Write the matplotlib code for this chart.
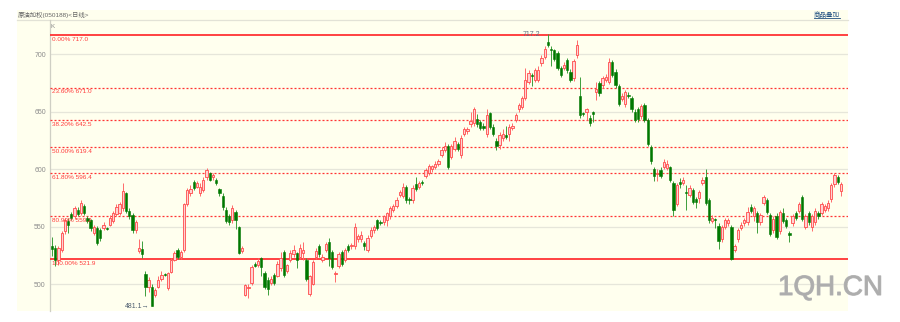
import matplotlib
matplotlib.use("Agg")
import matplotlib.pyplot as plt
from matplotlib.patches import Rectangle
from matplotlib.lines import Line2D
import matplotlib.patheffects as pe

plt.rcParams['font.family'] = ['Liberation Sans', 'Noto Sans CJK SC', 'DejaVu Sans']

# ---------------- data ----------------
opens = [533, 532, 521, 530, 546, 555, 561, 559, 565, 562,
         568, 558, 556, 545, 549, 547, 549, 549, 552, 555,
         561, 562, 566, 579, 564, 560, 547, 529, 531, 509,
         498, 498, 491, 498, 505, 509, 497, 511, 521, 530,
         524, 530, 570, 579, 589, 585, 579, 582, 593, 597,
         593, 591, 583, 577, 565, 559, 556, 563, 550, 529,
         491, 497, 501, 518, 517, 523, 510, 504, 501, 508,
         507, 514, 528, 512, 521, 526, 527, 524, 527, 521,
         492, 500, 524, 533, 521, 530, 537, 528, 509, 516,
         528, 521, 533, 533, 533, 539, 539, 536, 530, 542,
         547, 556, 554, 554, 556, 559, 565, 568, 578, 577,
         585, 574, 573, 587, 585, 589, 594, 597, 600, 602,
         605, 612, 617, 620, 611, 618, 622, 612, 631, 633,
         639, 640, 644, 641, 638, 631, 649, 637, 625, 621,
         627, 630, 631, 636, 643, 652, 654, 662, 676, 682,
         678, 678, 692, 698, 711, 705, 704, 701, 688, 688,
         695, 685, 679, 699, 664, 649, 650, 645, 650, 667,
         675, 673, 678, 676, 693, 685, 672, 661, 657, 665,
         662, 650, 652, 646, 656, 643, 619, 600, 596, 599,
         602, 601, 602, 588, 570, 589, 588, 580, 578, 582,
         574, 575, 588, 593, 573, 555, 557, 551, 539, 550,
         553, 550, 530, 539, 549, 553, 554, 567, 559, 562,
         554, 571, 573, 560, 547, 559, 546, 562, 556, 545,
         553, 562, 564, 576, 550, 562, 550, 554, 562, 562,
         565, 566, 574, 587, 593, 581]

closes = [531, 521, 532, 545, 556, 552, 558, 566, 561, 571,
          562, 555, 549, 550, 536, 540, 552, 548, 558, 562,
          567, 570, 581, 564, 559, 547, 554, 532, 526, 498,
          504, 481.1, 495, 504, 508, 508, 510, 521, 527, 524,
          528, 570, 582, 583, 584, 588, 585, 591, 599, 591,
          595, 588, 579, 567, 555, 554, 566, 556, 527, 532,
          499, 498, 515, 516, 520, 515, 498, 496, 505, 501,
          518, 523, 508, 517, 527, 530, 521, 532, 530, 505,
          507, 519, 529, 526, 524, 535, 523, 515, 510, 526,
          518, 530, 530, 534, 550, 542, 543, 533, 540, 547,
          550, 549, 553, 559, 562, 566, 568, 573, 580, 585,
          573, 573, 584, 583, 588, 588, 599, 603, 603, 605,
          607, 617, 620, 602, 620, 625, 618, 627, 635, 635,
          642, 652, 639, 636, 636, 647, 637, 631, 620, 630,
          631, 628, 637, 638, 647, 656, 662, 678, 684, 681,
          686, 686, 697, 705, 708, 704, 696, 688, 682, 691,
          686, 678, 694, 708, 647, 648, 652, 640, 648, 670,
          666, 679, 680, 693, 682, 673, 657, 664, 667, 664,
          652, 643, 644, 655, 643, 622, 607, 594, 597, 594,
          606, 605, 591, 565, 586, 587, 591, 579, 584, 572,
          572, 580, 591, 571, 556, 558, 556, 538, 550, 556,
          556, 522, 533, 547, 552, 556, 563, 564, 566, 554,
          560, 576, 563, 544, 557, 541, 563, 555, 551, 543,
          559, 558, 570, 557, 559, 554, 559, 564, 559, 570,
          568, 571, 586, 595, 589, 587]

highs = [541, 534, 533, 546, 558, 558, 563, 568, 567, 573,
         570, 559, 557, 552, 551, 549, 554, 550, 560, 564,
         570, 572, 588, 580, 566, 562, 556, 539, 538, 512,
         506, 500, 497, 507, 512, 510, 511, 523, 529, 532,
         530, 571, 584, 586, 591, 590, 588, 593, 601, 598,
         597, 592, 584, 579, 567, 561, 569, 565, 551, 533,
         500, 500, 517, 519, 523, 524, 512, 506, 507, 510,
         520, 528, 530, 518, 530, 534, 528, 535, 537, 523,
         508, 521, 532, 535, 526, 537, 540, 530, 512, 528,
         530, 532, 535, 536, 553, 544, 546, 538, 543, 550,
         552, 557, 556, 560, 563, 568, 570, 576, 582, 588,
         586, 576, 586, 593, 590, 591, 601, 605, 604, 607,
         609, 619, 624, 622, 622, 628, 624, 630, 637, 637,
         650, 654, 648, 643, 640, 652, 650, 639, 627, 632,
         635, 638, 639, 640, 649, 658, 664, 688, 686, 684,
         688, 690, 699, 707, 717.2, 707, 705, 703, 690, 693,
         697, 687, 696, 712, 680, 650, 653, 647, 651, 676,
         677, 681, 683, 697, 695, 687, 674, 666, 669, 667,
         664, 652, 654, 657, 658, 645, 621, 602, 600, 602,
         609, 608, 603, 590, 588, 592, 593, 586, 586, 584,
         576, 582, 593, 600, 575, 560, 558, 553, 552, 558,
         558, 552, 535, 549, 554, 558, 567, 570, 568, 564,
         562, 578, 575, 562, 559, 562, 565, 566, 558, 546,
         561, 564, 572, 578, 561, 564, 561, 566, 564, 572,
         570, 573, 588, 597, 595, 589]

lows = [525, 516, 517, 528, 544, 545, 556, 557, 559, 560,
        560, 553, 546, 543, 534, 538, 547, 547, 551, 553,
        559, 560, 564, 562, 557, 545, 545, 527, 523, 490,
        493, 481.1, 489, 497, 503, 507, 495, 510, 520, 522,
        522, 528, 568, 577, 582, 584, 577, 580, 591, 590,
        591, 586, 577, 565, 553, 552, 553, 548, 526, 527,
        490, 488, 499, 515, 515, 507, 496, 491, 499, 499,
        506, 512, 506, 510, 519, 524, 514, 522, 521, 503,
        490, 499, 522, 524, 519, 528, 516, 513, 502, 514,
        516, 519, 528, 531, 531, 537, 537, 530, 528, 540,
        545, 547, 552, 552, 551, 557, 563, 566, 576, 575,
        571, 570, 571, 581, 583, 586, 592, 595, 598, 600,
        603, 611, 615, 600, 609, 616, 616, 610, 629, 631,
        637, 638, 637, 634, 634, 628, 635, 629, 617, 618,
        625, 626, 625, 634, 641, 650, 652, 660, 674, 672,
        676, 676, 690, 696, 706, 690, 694, 686, 680, 686,
        684, 676, 677, 697, 645, 646, 643, 638, 641, 660,
        664, 671, 676, 674, 680, 671, 655, 659, 654, 662,
        650, 641, 641, 644, 641, 620, 605, 590, 590, 592,
        600, 599, 589, 559, 568, 584, 586, 565, 576, 570,
        566, 571, 586, 569, 553, 553, 549, 531, 537, 548,
        551, 521.5, 528, 537, 547, 551, 552, 562, 555, 545,
        552, 569, 561, 542, 545, 539, 544, 553, 549, 537,
        551, 556, 562, 555, 548, 552, 546, 552, 557, 560,
        563, 564, 572, 585, 587, 577]

fib_pcts = ["0.00%", "23.60%", "38.20%", "50.00%", "61.80%", "80.90%", "100.00%"]
fib_levels = [717.0, 671.0, 642.5, 619.4, 596.4, 559.2, 521.9]
y_ticks = [500, 550, 600, 650, 700]
title_text = "原油加权(050188)<日线>"
overlay_text = "商品叠加"
high_label = "717.2"
low_label = "481.1"

# ---------------- figure ----------------
W, H = 900, 322
fig = plt.figure(figsize=(W / 100, H / 100), dpi=100)
fig.patch.set_facecolor('white')


def fx(x):
    return x / W


def fy(y):
    return 1 - y / H


# yellow panel
fig.patches.append(Rectangle((fx(17), fy(311)), (848 - 17) / W, (311 - 10) / H,
                             transform=fig.transFigure, facecolor='#FFFFEE',
                             edgecolor='none', zorder=0))
# header separator
fig.lines.append(Line2D([fx(17), fx(848)], [fy(19.5), fy(19.5)], transform=fig.transFigure,
                        color='#E2E2D6', lw=0.9, zorder=1))

fig.text(fx(17.5), fy(15), title_text, fontsize=4.6, color='#666666', va='center', ha='left')
fig.text(fx(814), fy(14.5), overlay_text, fontsize=4.7, color='#1F4F7F', va='center', ha='left',
         family=['Noto Sans CJK SC', 'DejaVu Sans'])
fig.lines.append(Line2D([fx(814), fx(840)], [fy(18.2), fy(18.2)], transform=fig.transFigure,
                        color='#1F4F7F', lw=0.6))

ax = fig.add_axes([fx(50), fy(311), (848 - 50) / W, (311 - 20) / H])
ax.set_facecolor('none')
ax.set_zorder(2)

n = len(opens)
step = 3.22
ax.set_xlim((50 - 52) / step, (848 - 52) / step)
ax.set_ylim(476.8, 729.8)

ax.set_yticks(y_ticks)
ax.set_yticklabels([str(v) for v in y_ticks])
ax.tick_params(axis='y', length=0, pad=3, labelsize=5, labelcolor='#8C8C8C')
ax.set_xticks([])
ax.yaxis.grid(True, color='#E6E6DA', lw=0.9)
ax.set_axisbelow(True)
for s in ['top', 'right', 'bottom']:
    ax.spines[s].set_visible(False)
ax.spines['left'].set_color('#CFCFC4')
ax.spines['left'].set_linewidth(0.9)

# fib lines
for pct, lev in zip(fib_pcts, fib_levels):
    if pct in ("0.00%", "100.00%"):
        ax.axhline(lev, color='#FF3333', lw=1.3, zorder=3)
    else:
        ax.axhline(lev, color='#FF3333', lw=0.9, ls=(0, (1.6, 1.6)), zorder=3)
    ax.annotate(f"{pct} {lev:.1f}", xy=(0, lev), xycoords=('axes fraction', 'data'),
                xytext=(1.5, -1.3), textcoords='offset points', va='top', ha='left',
                fontsize=4.6, color='#FF3B3B', zorder=6)

# candles
xs = list(range(n))
up_x, up_b, up_h = [], [], []
dn_x, dn_b, dn_h = [], [], []
for i in xs:
    o, c = opens[i], closes[i]
    if c >= o:
        up_x.append(i); up_b.append(o); up_h.append(max(c - o, 0.6))
    else:
        dn_x.append(i); dn_b.append(c); dn_h.append(max(o - c, 0.6))

for i in xs:
    col = '#FF6A6A' if closes[i] >= opens[i] else '#3C9E3C'
    ax.vlines(i, lows[i], highs[i], color=col, lw=0.7, zorder=4)

ax.bar(up_x, up_h, bottom=up_b, width=0.72, color='#FFD2D2', edgecolor='#FF4A4A',
       linewidth=0.6, zorder=5)
ax.bar(dn_x, dn_h, bottom=dn_b, width=0.72, color='#007800', edgecolor='#007800',
       linewidth=0.4, zorder=5)

# high / low labels
hi_idx = highs.index(max(highs))
lo_idx = lows.index(min(lows))
ax.annotate(high_label, xy=(hi_idx, max(highs)), xytext=(-5.5, 0), textcoords='offset points',
            ha='right', va='center', fontsize=5, color='#5E6E80', zorder=7)
ax.annotate(low_label + "\u2192", xy=(lo_idx, min(lows)), xytext=(-1.5, 0), textcoords='offset points',
            ha='right', va='center', fontsize=5, color='#4E5E70', zorder=7)

ax.text(0.5 / (848 - 50), 0.985, "K", transform=ax.transAxes, fontsize=4.5, color='#888888',
        ha='left', va='top')

# watermark
fig.text(fx(778), fy(295), "1QH.CN", fontsize=20, color='#ADADAD', ha='left', va='baseline',
         family=['Liberation Sans', 'DejaVu Sans'], zorder=10,
         path_effects=[pe.withStroke(linewidth=0.8, foreground='#B8B8B8')])

fig.savefig('out.png', dpi=100, facecolor='white')
